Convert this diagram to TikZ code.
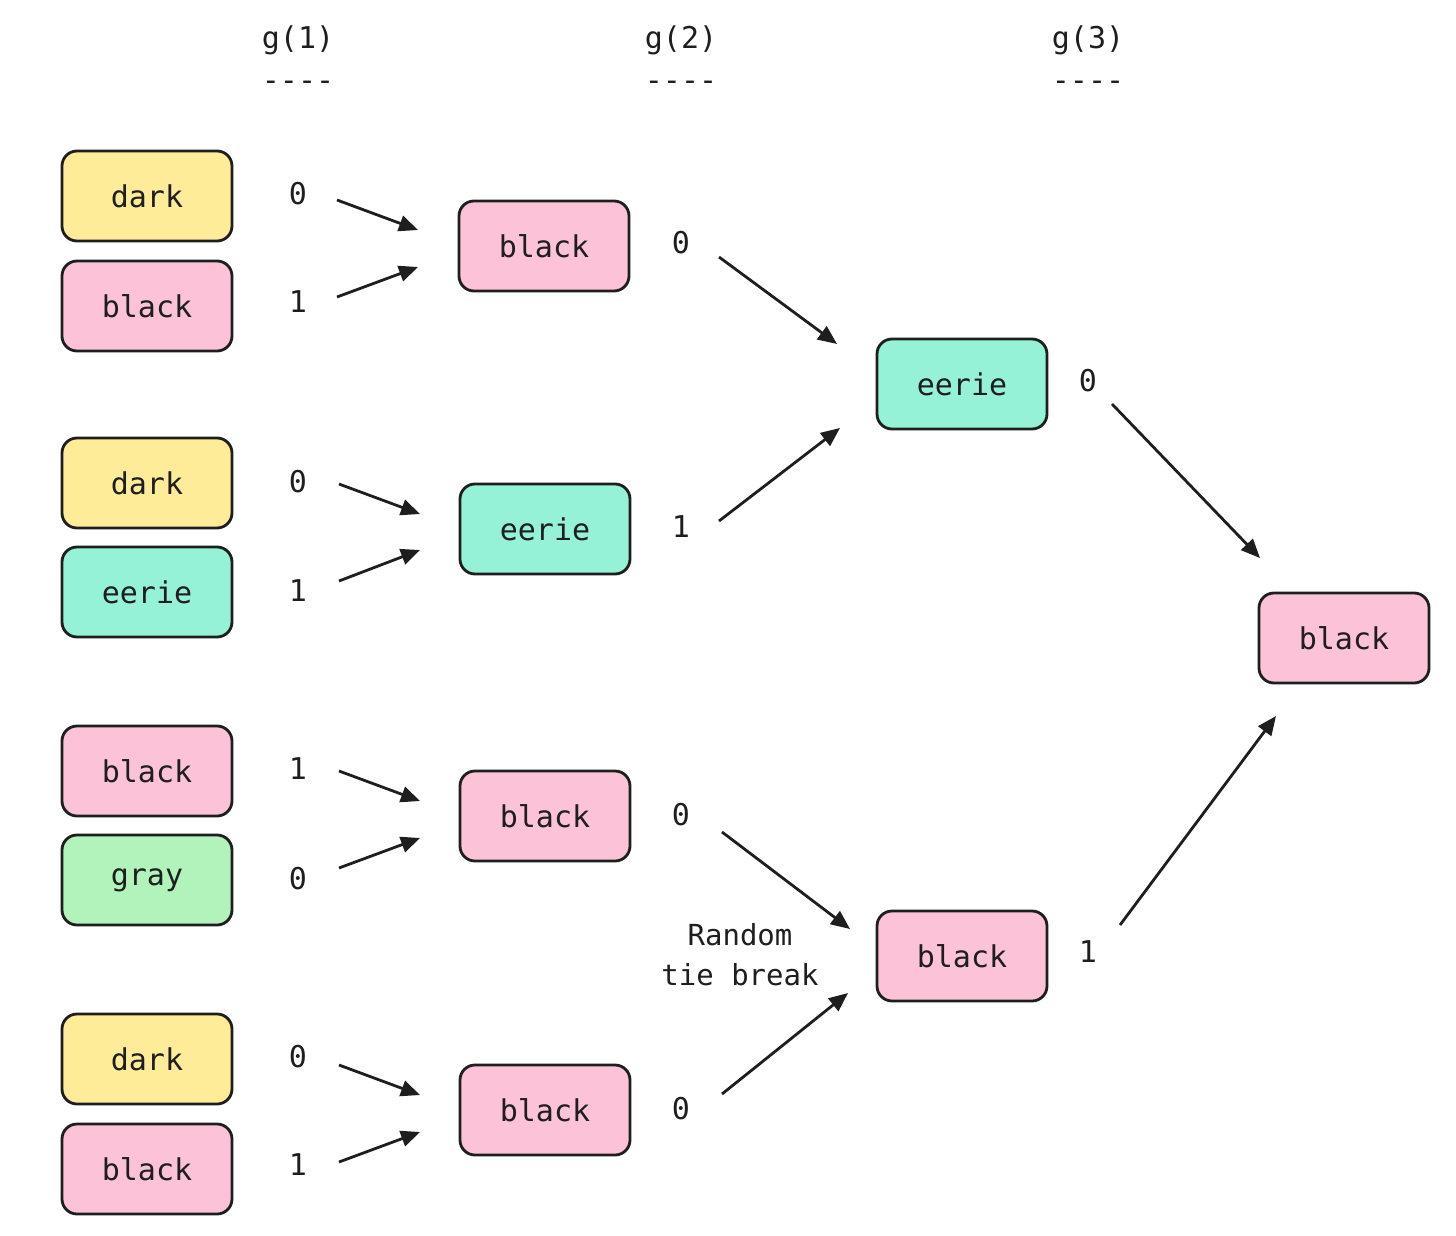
\documentclass[tikz,border=0pt]{standalone}
\usepackage{fontspec}
\setmonofont{DejaVu Sans Mono}
\usetikzlibrary{arrows.meta}
\definecolor{ink}{HTML}{1E1E1E}
\definecolor{cyellow}{HTML}{FFEC99}
\definecolor{cpink}{HTML}{FCC2D7}
\definecolor{cteal}{HTML}{96F2D7}
\definecolor{cgreen}{HTML}{B2F2BB}
\begin{document}
\begin{tikzpicture}[x=0.5pt,y=-0.5pt,
  every node/.style={font=\ttfamily\fontsize{15}{18}\selectfont, text=ink},
  word/.style={draw=ink, line width=1.4pt, rounded corners=7.5pt, minimum width=85pt, minimum height=45pt, inner sep=0pt},
  ybox/.style={word, fill=cyellow},
  pbox/.style={word, fill=cpink},
  tbox/.style={word, fill=cteal},
  gbox/.style={word, fill=cgreen},
  lab/.style={inner sep=0pt},
  arr/.style={draw=ink, line width=1.4pt, -{Triangle[length=9.5pt,width=8pt]}}]
\useasboundingbox (0,0) rectangle (1456,1236);
\fill[white] (0,0) rectangle (1456,1236);

% headers
\node[lab] (h1) at (298,40) {g(1)};
\node[lab] (d1) at (298,86) {----};
\node[lab] (h2) at (681,40) {g(2)};
\node[lab] (d2) at (681,86) {----};
\node[lab] (h3) at (1088,40) {g(3)};
\node[lab] (d3) at (1088,86) {----};

% column 1
\node[ybox] (a1) at (147,196) {dark};
\node[pbox] (a2) at (147,306) {black};
\node[ybox] (a3) at (147,483) {dark};
\node[tbox] (a4) at (147,592) {eerie};
\node[pbox] (a5) at (147,771) {black};
\node[gbox] (a6) at (147,880) {gray};
\node[ybox] (a7) at (147,1059) {dark};
\node[pbox] (a8) at (147,1169) {black};

\node[lab] (l1) at (298,194) {0};
\node[lab] (l2) at (298,302) {1};
\node[lab] (l3) at (298,482) {0};
\node[lab] (l4) at (298,591) {1};
\node[lab] (l5) at (298,769) {1};
\node[lab] (l6) at (298,879) {0};
\node[lab] (l7) at (298,1057) {0};
\node[lab] (l8) at (298,1165) {1};

% column 2
\node[pbox] (b1) at (544,246) {black};
\node[tbox] (b2) at (545,529) {eerie};
\node[pbox] (b3) at (545,816) {black};
\node[pbox] (b4) at (545,1110) {black};

\node[lab] (m1) at (681,243) {0};
\node[lab] (m2) at (681,527) {1};
\node[lab] (m3) at (681,815) {0};
\node[lab] (m4) at (681,1109) {0};

% column 3
\node[tbox] (c1) at (962,384) {eerie};
\node[pbox] (c2) at (962,956) {black};
\node[lab] (n1) at (1088,381) {0};
\node[lab] (n2) at (1088,952) {1};

% final
\node[pbox] (f) at (1344,638) {black};

% note
\node[lab, align=center, font=\ttfamily\fontsize{14.5}{20}\selectfont] (note) at (740,955) {Random\\tie break};

% arrow end points
\coordinate (s1) at (337,200); \coordinate (e1) at (418,230);
\coordinate (s2) at (337,297); \coordinate (e2) at (418,267);
\coordinate (s3) at (339,484); \coordinate (e3) at (420,514);
\coordinate (s4) at (339,581); \coordinate (e4) at (420,550);
\coordinate (s5) at (339,771); \coordinate (e5) at (420,801);
\coordinate (s6) at (339,868); \coordinate (e6) at (420,838);
\coordinate (s7) at (339,1065); \coordinate (e7) at (420,1095);
\coordinate (s8) at (339,1162); \coordinate (e8) at (420,1132);
\coordinate (t1) at (719,257); \coordinate (u1) at (837,344);
\coordinate (t2) at (719,521); \coordinate (u2) at (840,428);
\coordinate (t3) at (722,832); \coordinate (u3) at (850,929);
\coordinate (t4) at (722,1094); \coordinate (u4) at (848,993);
\coordinate (v1) at (1112,404); \coordinate (w1) at (1260,558);
\coordinate (v2) at (1120,925); \coordinate (w2) at (1276,716);

\foreach \i in {1,...,8} { \draw[arr] (s\i) -- (e\i); }
\foreach \i in {1,...,4} { \draw[arr] (t\i) -- (u\i); }
\foreach \i in {1,2} { \draw[arr] (v\i) -- (w\i); }
\end{tikzpicture}
\end{document}
